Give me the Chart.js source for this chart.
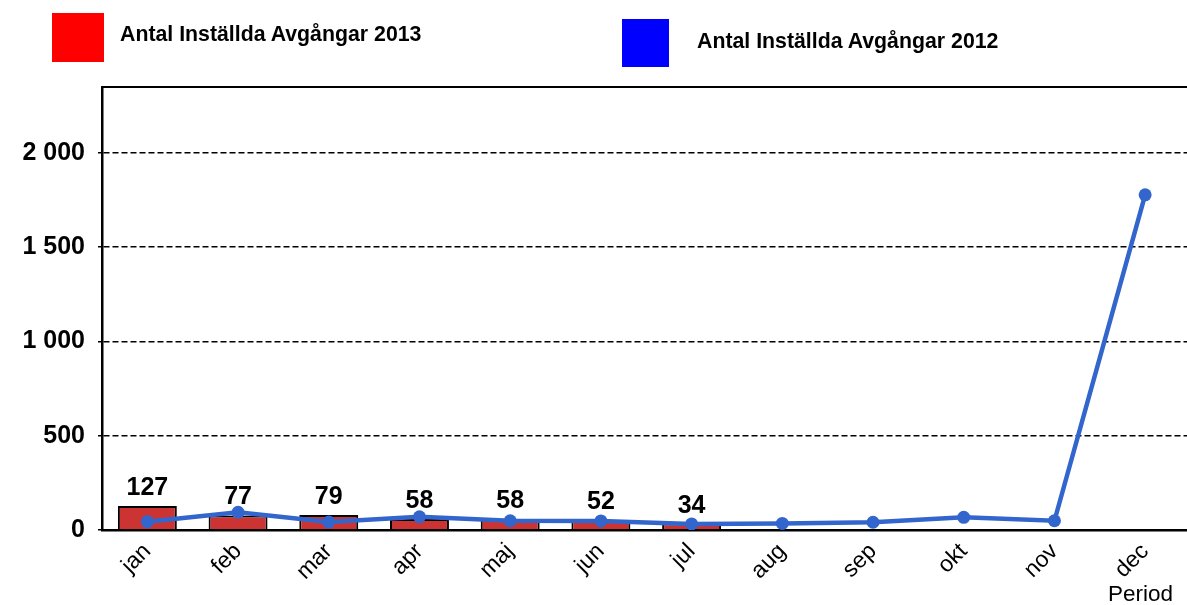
<!DOCTYPE html>
<html>
<head>
<meta charset="utf-8">
<script src="https://cdn.jsdelivr.net/npm/chart.js@4/dist/chart.umd.min.js"></script>
<style>
  body { margin: 0; overflow: hidden; background: #fff; font-family: "Liberation Sans", Arial, sans-serif; }
  #wrap { position: relative; width: 1187px; height: 605px; overflow: hidden; }
  #chart { position: absolute; left: 0; top: 0; }
  .box { position: absolute; }
  .lbl { position: absolute; font-weight: bold; font-size: 21.3px; line-height: 1; white-space: nowrap; color: #000; }
  #period { position: absolute; left: 1108px; top: 583px; font-size: 22.5px; line-height: 1; color: #000; }
</style>
</head>
<body>
<div id="wrap">
  <canvas id="chart" width="1197" height="605"></canvas>
  <div class="box" style="left:52px;top:13px;width:52px;height:49px;background:#ff0000"></div>
  <div class="lbl" style="left:120px;top:24px">Antal Inställda Avgångar 2013</div>
  <div class="box" style="left:622px;top:19px;width:47px;height:48px;background:#0000ff"></div>
  <div class="lbl" style="left:697px;top:31px">Antal Inställda Avgångar 2012</div>
  <div id="period">Period</div>
</div>
<script>
// months on the x axis
const months = ['jan', 'feb', 'mar', 'apr', 'maj', 'jun', 'jul', 'aug', 'sep', 'okt', 'nov', 'dec'];
// cancelled departures per month
const cancelled2013 = [127, 77, 79, 58, 58, 52, 34, null, null, null, null, null];
const cancelled2012 = [44, 94, 42, 70, 49, 48, 32, 35, 41, 67, 49, 1778];
// y axis
const yTicks = [0, 500, 1000, 1500, 2000];
const yMax = 2350;

const fmt = v => String(v).replace(/\B(?=(\d{3})+(?!\d))/g, ' ');

// value labels above the 2013 bars
const barLabels = {
    id: 'barLabels',
    afterDatasetsDraw(chart) {
        const ctx = chart.ctx;
        const meta = chart.getDatasetMeta(0);
        ctx.save();
        ctx.font = 'bold 25px "Liberation Sans", Arial, sans-serif';
        ctx.fillStyle = '#000';
        ctx.textAlign = 'center';
        ctx.textBaseline = 'alphabetic';
        meta.data.forEach((el, i) => {
            const v = cancelled2013[i];
            if (v == null) return;
            ctx.fillText(String(v), el.x, el.y - 11);
        });
        ctx.restore();
    }
};

// top frame line of the plot area
const topLine = {
    id: 'topLine',
    afterDraw(chart) {
        const { ctx, chartArea } = chart;
        ctx.save();
        ctx.strokeStyle = '#000';
        ctx.lineWidth = 2;
        ctx.beginPath();
        ctx.moveTo(chartArea.left, chartArea.top);
        ctx.lineTo(chartArea.right, chartArea.top);
        ctx.stroke();
        ctx.restore();
    }
};

new Chart(document.getElementById('chart').getContext('2d'), {
    type: 'bar',
    data: {
        labels: months,
        datasets: [
            {
                type: 'bar',
                label: 'Antal Inställda Avgångar 2013',
                data: cancelled2013,
                backgroundColor: '#cc3333',
                borderColor: '#000',
                borderWidth: 2,
                categoryPercentage: 1,
                barPercentage: 0.65,
                order: 1,
            },
            {
                type: 'line',
                label: 'Antal Inställda Avgångar 2012',
                data: cancelled2012,
                borderColor: '#3366cc',
                backgroundColor: '#3366cc',
                borderWidth: 4.5,
                pointRadius: 6.5,
                pointBorderWidth: 0,
                tension: 0,
                order: 0,
            },
        ],
    },
    options: {
        responsive: false,
        animation: false,
        layout: { padding: { top: 87, right: 0, left: 0, bottom: 0 } },
        plugins: {
            legend: { display: false },
            tooltip: { enabled: false },
        },
        scales: {
            x: {
                offset: true,
                grid: { display: false, drawTicks: false },
                border: { display: true, color: '#000', width: 2.5 },
                ticks: {
                    color: '#000',
                    font: { family: '"Liberation Sans", Arial, sans-serif', size: 23 },
                    minRotation: 45,
                    maxRotation: 45,
                    padding: 8,
                    autoSkip: false,
                },
                afterFit(scale) { scale.height = 75; },
            },
            y: {
                min: 0,
                max: yMax,
                afterBuildTicks(scale) {
                    scale.ticks = yTicks.map(v => ({ value: v }));
                },
                afterFit(scale) { scale.width = 102; },
                grid: {
                    color: ctx => (ctx.tick && ctx.tick.value === 0 ? 'rgba(0,0,0,0)' : '#000'),
                    lineWidth: 1.5,
                    tickColor: '#000',
                    tickLength: 4,
                    tickWidth: 1.5,
                },
                border: { display: true, color: '#000', width: 2.5, dash: [6, 3] },
                ticks: {
                    color: '#000',
                    padding: 13,
                    font: { family: '"Liberation Sans", Arial, sans-serif', size: 25, weight: 'bold' },
                    callback: v => fmt(v),
                },
            },
        },
    },
    plugins: [barLabels, topLine],
});
</script>
</body>
</html>
